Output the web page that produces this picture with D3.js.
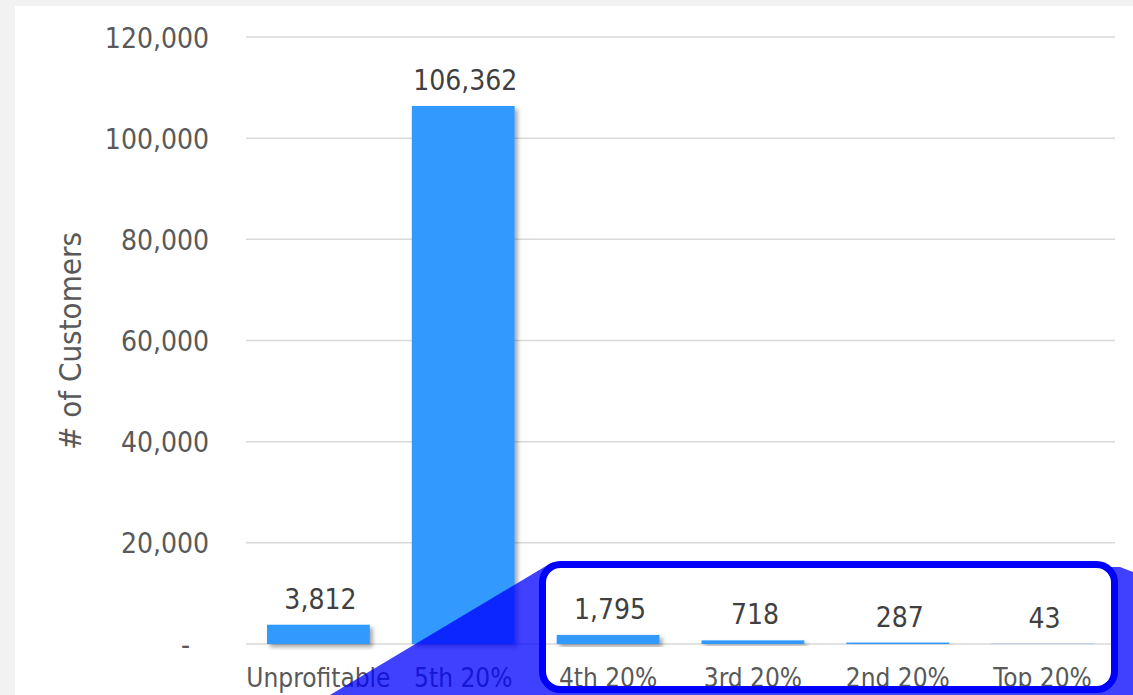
<!DOCTYPE html>
<html>
<head>
<meta charset="utf-8">
<script src="https://cdn.jsdelivr.net/npm/d3@7"></script>
<style>
  html, body { margin: 0; padding: 0; background: #f2f2f2; }
  svg { display: block; }
  text { font-family: "DejaVu Sans Condensed", "DejaVu Sans", sans-serif; font-stretch: condensed; }
</style>
</head>
<body>
<svg id="chart" width="1133" height="695"></svg>
<script>
// Customer counts by profitability tier
const categories = ["Unprofitable", "5th 20%", "4th 20%", "3rd 20%", "2nd 20%", "Top 20%"];
const customers = [3812, 106362, 1795, 718, 287, 43];
const yTicks = [0, 20000, 40000, 60000, 80000, 100000, 120000];

const svg = d3.select("#chart");
const W = 1133, H = 695;

// white chart panel
svg.append("rect").attr("x", 15).attr("y", 6).attr("width", W - 15).attr("height", H - 6).attr("fill", "#ffffff");

const defs = svg.append("defs");
const shadow = defs.append("filter").attr("id", "barShadow")
  .attr("x", "-20%").attr("y", "-20%").attr("width", "150%").attr("height", "150%");
shadow.append("feDropShadow").attr("dx", 3).attr("dy", 3).attr("stdDeviation", 2)
  .attr("flood-color", "#000").attr("flood-opacity", 0.35);

const x = d3.scaleBand().domain(categories).range([246, 1115]).paddingInner(0.29).paddingOuter(0.145);
const y = d3.scaleLinear().domain([0, 120000]).range([644, 37]);

const fmt = d3.format(",");

// gridlines
svg.append("g").selectAll("line").data(yTicks).join("line")
  .attr("x1", 246).attr("x2", 1115)
  .attr("y1", d => y(d)).attr("y2", d => y(d))
  .attr("stroke", "#d9d9d9").attr("stroke-width", 1.5);

// y axis labels
const yAxis = d3.axisLeft(y).tickValues(yTicks).tickSize(0).tickPadding(0)
  .tickFormat(d => d === 0 ? "-" : fmt(d));
const gy = svg.append("g").attr("transform", "translate(209,0)").call(yAxis);
gy.select(".domain").remove();
gy.selectAll("text").attr("fill", "#595959").attr("font-size", 28)
  .attr("font-family", "'DejaVu Sans Condensed', 'DejaVu Sans', sans-serif")
  .attr("dy", "0.36em");
gy.selectAll(".tick").filter(d => d === 0).select("text").attr("x", -19);

// axis title
svg.append("text")
  .attr("transform", "translate(81,341) rotate(-90)")
  .attr("text-anchor", "middle")
  .attr("fill", "#595959").attr("font-size", 31)
  .text("# of Customers");

// bars
svg.append("g").selectAll("rect").data(categories).join("rect")
  .attr("x", d => x(d))
  .attr("y", (d, i) => y(customers[i]))
  .attr("width", x.bandwidth())
  .attr("height", (d, i) => y(0) - y(customers[i]))
  .attr("fill", "#3399ff")
  .attr("filter", "url(#barShadow)");

// value labels
svg.append("g").selectAll("text").data(categories).join("text")
  .attr("x", d => x(d) + x.bandwidth() / 2 + 2)
  .attr("y", (d, i) => y(customers[i]) - 16)
  .attr("text-anchor", "middle")
  .attr("fill", "#404040").attr("font-size", 28)
  .text((d, i) => fmt(customers[i]));

// x axis labels
const xAxis = d3.axisBottom(x).tickSize(0).tickPadding(0);
const gx = svg.append("g").attr("transform", "translate(0,644)").call(xAxis);
gx.select(".domain").remove();
gx.selectAll("text").attr("fill", "#595959").attr("font-size", 26)
  .attr("font-family", "'DejaVu Sans Condensed', 'DejaVu Sans', sans-serif")
  .attr("dy", "1.65em");

// callout highlighting the small tiers
const box = { x: 542.5, y: 564.5, w: 572, h: 125, r: 18 };
const hole = d3.path();
hole.moveTo(box.x + box.r, box.y);
hole.lineTo(box.x + box.w - box.r, box.y);
hole.arcTo(box.x + box.w, box.y, box.x + box.w, box.y + box.r, box.r);
hole.lineTo(box.x + box.w, box.y + box.h - box.r);
hole.arcTo(box.x + box.w, box.y + box.h, box.x + box.w - box.r, box.y + box.h, box.r);
hole.lineTo(box.x + box.r, box.y + box.h);
hole.arcTo(box.x, box.y + box.h, box.x, box.y + box.h - box.r, box.r);
hole.lineTo(box.x, box.y + box.r);
hole.arcTo(box.x, box.y, box.x + box.r, box.y, box.r);
hole.closePath();

const outer = "M330,695 L551,563 L1120,567 L1133,572 L1133,695 Z";
svg.append("path")
  .attr("d", outer + " " + hole.toString())
  .attr("fill", "#0000ff").attr("fill-opacity", 0.75)
  .attr("fill-rule", "evenodd");

svg.append("path")
  .attr("d", hole.toString())
  .attr("fill", "none").attr("stroke", "#0000ff").attr("stroke-width", 7);
</script>
</body>
</html>
